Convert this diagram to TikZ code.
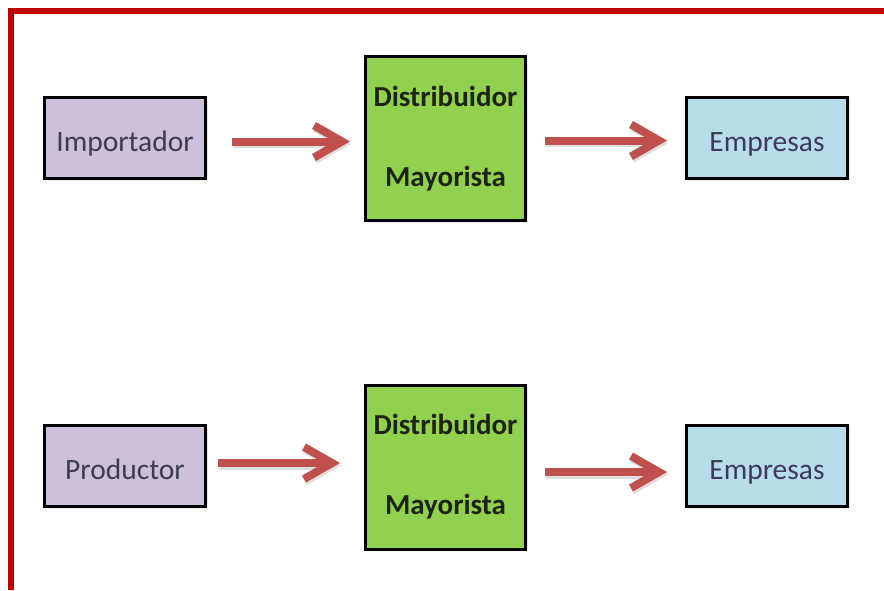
\documentclass[tikz,border=0pt]{standalone}
\usepackage{fontspec}
\setmainfont{Carlito}
\usetikzlibrary{calc,shadows}

\definecolor{framered}{HTML}{C00000}
\definecolor{flowred}{HTML}{C0504D}
\definecolor{lilac}{HTML}{CCC0DA}
\definecolor{leaf}{HTML}{92D050}
\definecolor{sky}{HTML}{B7DEE8}
\definecolor{inkslate}{HTML}{3C3C58}
\definecolor{inkdark}{HTML}{1C2414}

\tikzset{
  box/.style={draw=black, line width=3pt, inner sep=0pt,
    drop shadow={opacity=0.15, shadow xshift=2pt, shadow yshift=-2pt},
    font=\fontsize{29.5}{35}\selectfont},
  endbox/.style={box, minimum width=161pt, minimum height=81pt, text=inkslate,
    text height=26pt, text depth=0pt},
  srcbox/.style={endbox, fill=lilac},
  dstbox/.style={endbox, fill=sky},
  midbox/.style={box, fill=leaf, minimum width=160pt, minimum height=164pt,
    align=center, text=inkdark, font=\fontsize{29}{80}\selectfont\bfseries},
  flow/.style={draw=flowred, line width=8pt, line join=miter},
  flowshade/.style={draw=black!13, line width=8pt, line join=miter}
}

% thick red arrow: shaft from #1 to #2, open chevron head ending at #2
\newcommand{\flowarrow}[2]{%
  \draw[flowshade] ($(#1)+(1,2.5)$) -- ($(#2)+(1,2.5)$);
  \draw[flowshade] ($(#2)+(-27,-13.5)$) -- ($(#2)+(1,2.5)$) -- ($(#2)+(-27,18.5)$);
  \draw[flow] (#1) -- (#2);
  \draw[flow] ($(#2)+(-28,-16)$) -- (#2) -- ($(#2)+(-28,16)$);
}

\begin{document}
\begin{tikzpicture}[x=1pt, y=-1pt]
  \useasboundingbox (0,0) rectangle (884,590);

  % page frame: top and left edges only
  \fill[framered] (8,8) rectangle (884,14);
  \fill[framered] (8,8) rectangle (14,590);

  % upper chain
  \node[srcbox] (imp)  at (125,138)     {Importador};
  \node[midbox] (dis1) at (445.5,138.5) {Distribuidor\\Mayorista};
  \node[dstbox] (emp1) at (767,138)     {Empresas};

  % lower chain
  \node[srcbox] (prod) at (125,466)     {Productor};
  \node[midbox] (dis2) at (445.5,467)   {Distribuidor\\Mayorista};
  \node[dstbox] (emp2) at (767,466)     {Empresas};

  % connector end points
  \coordinate (a1) at ($(imp.east)+(25,3.5)$);
  \coordinate (b1) at ($(dis1.west)+(-22,3)$);
  \coordinate (a2) at ($(dis1.east)+(18,2)$);
  \coordinate (b2) at ($(emp1.west)+(-26,2.5)$);
  \coordinate (a3) at ($(prod.east)+(11,-3)$);
  \coordinate (b3) at ($(dis2.west)+(-32,-4)$);
  \coordinate (a4) at ($(dis2.east)+(18,5)$);
  \coordinate (b4) at ($(emp2.west)+(-26,6)$);

  % connectors
  \flowarrow{a1}{b1}
  \flowarrow{a2}{b2}
  \flowarrow{a3}{b3}
  \flowarrow{a4}{b4}
\end{tikzpicture}
\end{document}
